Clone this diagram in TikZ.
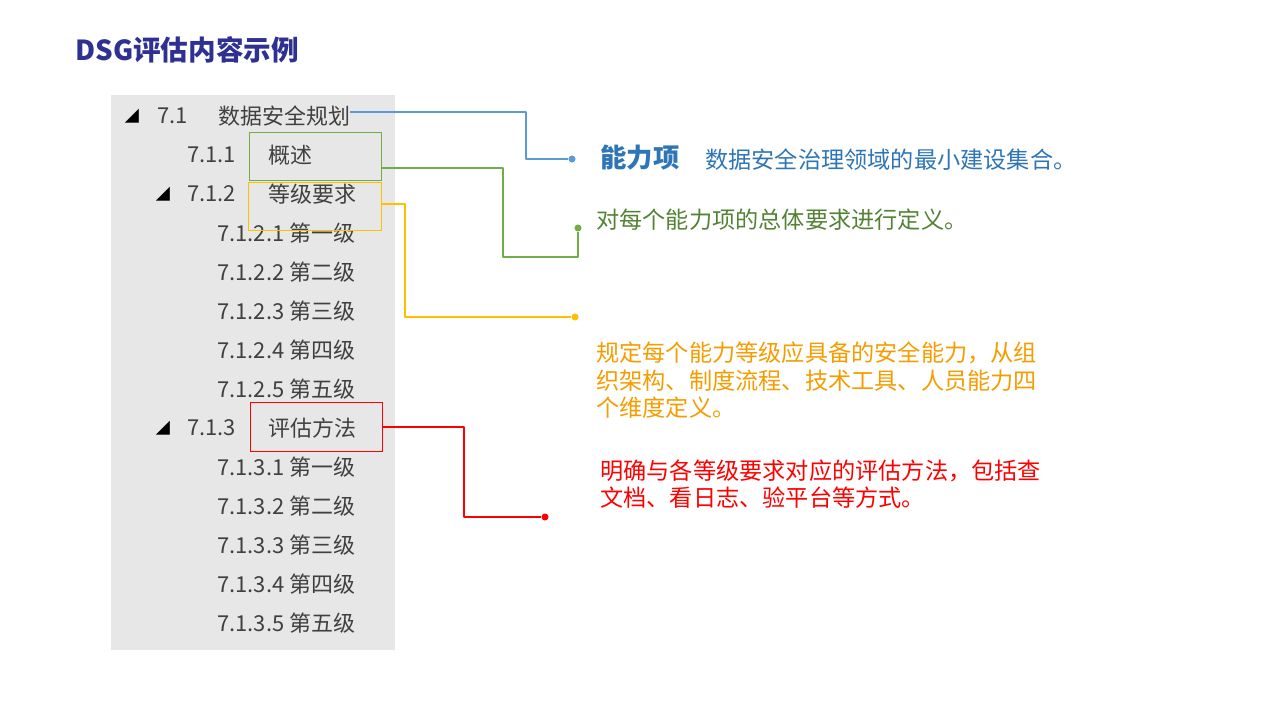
\documentclass[tikz,border=0pt]{standalone}
\usepackage{fontspec}
\setmainfont{Noto Sans CJK SC}
\usetikzlibrary{positioning}
\definecolor{titleblue}{HTML}{2E3192}
\definecolor{lineblue}{HTML}{5B9BD5}
\definecolor{txtblue}{HTML}{2E75B6}
\definecolor{linegreen}{HTML}{70AD47}
\definecolor{txtgreen}{HTML}{548235}
\definecolor{lineyellow}{HTML}{FFC000}
\definecolor{txtorange}{HTML}{F59C00}
\definecolor{linered}{HTML}{FF0000}
\definecolor{panel}{HTML}{E7E7E7}
\definecolor{treetxt}{HTML}{404040}
\begin{document}
\begin{tikzpicture}[
  x=0.02cm,y=-0.02cm,
  every node/.style={inner sep=0pt},
  tree/.style={anchor=west,font=\fontsize{12.5}{14}\selectfont,text=treetxt},
  note/.style={anchor=west,align=left,font=\fontsize{13.2}{15.9}\selectfont},
  tri/.style={anchor=center,font=\fontsize{8}{8}\selectfont,text=black},
  markbox/.style={draw,thick,minimum width=2.65cm,minimum height=0.97cm},
  link/.style={thick,line join=round},
  dotc/.style={circle,fill,minimum size=4pt}]
  \useasboundingbox (0,0) rectangle (1280,720);
  \fill[panel] (111,95) rectangle (395,650);
  \node[anchor=west,font=\fontsize{15.7}{17}\selectfont\bfseries,text=titleblue] (title) at (75,50) {DSG评估内容示例};

  % tree
  \node[tri] (t1) at (132,116) {◢};
  \node[tree] (n71) at (157,116) {7.1};
  \node[tree] (plan) at (218,116) {数据安全规划};
  \node[tree] (n711) at (187,155) {7.1.1};
  \node[tree] (desc) at (268,155) {概述};
  \node[tri] (t2) at (163,194) {◢};
  \node[tree] (n712) at (187,194) {7.1.2};
  \node[tree] (req) at (268,194) {等级要求};
  \foreach \i/\lv [count=\k] in {1/一,2/二,3/三,4/四,5/五}
    \node[tree] (a\i) at (217,194+39*\k) {7.1.2.\i\ 第\lv 级};
  \node[tri] (t3) at (163,428) {◢};
  \node[tree] (n713) at (187,428) {7.1.3};
  \node[tree] (meth) at (268,428) {评估方法};
  \foreach \i/\lv [count=\k] in {1/一,2/二,3/三,4/四,5/五}
    \node[tree] (b\i) at (217,428+39*\k) {7.1.3.\i\ 第\lv 级};

  % marker boxes
  \node[markbox,draw=linegreen] (gbox) at (315.5,156.5) {};
  \node[markbox,draw=lineyellow] (ybox) at (315,206.5) {};
  \node[markbox,draw=linered] (rbox) at (316.5,427) {};

  % end points
  \node[dotc,fill=lineblue] (bdot) at (572,159) {};
  \node[dotc,fill=linegreen] (gdot) at (578,228) {};
  \node[dotc,fill=lineyellow] (ydot) at (575,317) {};
  \node[dotc,fill=linered] (rdot) at (545,517) {};

  % notes
  \node[anchor=west,font=\fontsize{15}{16}\selectfont\bfseries,text=txtblue] (cap) at (600,158) {能力项};
  \node[note,text=txtblue] (capt) at (705,160) {数据安全治理领域的最小建设集合。};
  \node[note,text=txtgreen] (gnote) at (596,220) {对每个能力项的总体要求进行定义。};
  \node[note,text=txtorange,anchor=north west] (ynote) at (596,341) {规定每个能力等级应具备的安全能力，从组\\织架构、制度流程、技术工具、人员能力四\\个维度定义。};
  \node[note,text=linered,anchor=north west] (rnote) at (600,459) {明确与各等级要求对应的评估方法，包括查\\文档、看日志、验平台等方式。};

  % connectors
  \draw[link,lineblue] (plan.east |- 0,112) -- (526,112) |- (bdot);
  \draw[link,linegreen] (gbox.east |- 0,168) -- (503,168) |- (578,257) -- (gdot);
  \draw[link,lineyellow] (ybox.east |- 0,204) -- (405,204) |- (ydot);
  \draw[link,linered] (rbox.east) -- (464,427) |- (rdot);
\end{tikzpicture}
\end{document}
